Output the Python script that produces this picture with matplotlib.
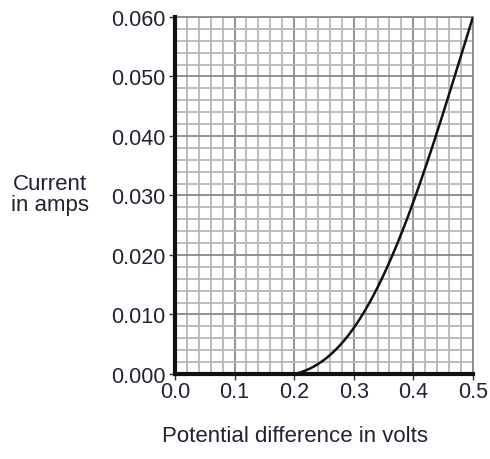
import numpy as np
import matplotlib
matplotlib.use("Agg")
import matplotlib.pyplot as plt
from matplotlib.ticker import MultipleLocator

plt.rcParams['font.family'] = ['Liberation Sans', 'DejaVu Sans']

# current vs potential difference
volts = [0.0, 0.1, 0.2, 0.225, 0.25, 0.275, 0.3, 0.325, 0.35, 0.375, 0.4, 0.425, 0.45, 0.475, 0.5]
amps = [0.0, 0.0, 0.0, 0.0006, 0.0025, 0.0048, 0.0076, 0.0115, 0.0165, 0.0225, 0.029, 0.036, 0.0438, 0.0517, 0.060]

x_ticks = [0.0, 0.1, 0.2, 0.3, 0.4, 0.5]
y_ticks = [0.0, 0.01, 0.02, 0.03, 0.04, 0.05, 0.06]
y_labels = ["0.000", "0.010", "0.020", "0.030", "0.040", "0.050", "0.060"]

fig = plt.figure(figsize=(4.9, 4.6), dpi=100)
ax = fig.add_axes([0.357, 0.185, 0.608, 0.776])

# smooth fit through the read points (flat at zero below 0.2 V)
xs = np.linspace(0, 0.5, 400)
mask = np.array(volts) >= 0.2
c = np.polyfit(np.array(volts)[mask], np.array(amps)[mask], 4)
ys = np.where(xs >= 0.2, np.clip(np.polyval(c, xs), 0, None), 0)
ax.plot(xs, ys, color="#111111", linewidth=1.8, zorder=3)

ax.set_xlim(0, 0.5)
ax.set_ylim(0, 0.06)
ax.set_xticks(x_ticks)
ax.set_xticklabels([f"{v:.1f}" for v in x_ticks])
ax.set_yticks(y_ticks)
ax.set_yticklabels(y_labels)
ax.xaxis.set_minor_locator(MultipleLocator(0.02))
ax.yaxis.set_minor_locator(MultipleLocator(0.002))

ax.grid(which="minor", color="#b8b8b8", linewidth=1.3)
ax.grid(which="major", color="#8a8a8a", linewidth=1.3)
ax.set_axisbelow(True)

ax.tick_params(which="major", labelsize=15.5, length=4, width=1, color="#333333", labelcolor="#222233")
ax.tick_params(axis="x", which="major", pad=1)
ax.tick_params(axis="y", which="major", pad=3)
ax.tick_params(which="minor", length=0)

for s in ["left", "bottom"]:
    ax.spines[s].set_linewidth(3)
    ax.spines[s].set_color("#111111")
    ax.spines[s].set_zorder(4)
for s in ["top", "right"]:
    ax.spines[s].set_color("#8a8a8a")
    ax.spines[s].set_linewidth(1.3)

fig.text(50 / 490, 1 - 195 / 460, "Current\nin amps", fontsize=16, color="#222233",
         ha="center", va="center", linespacing=1.0)
fig.text(295 / 490, 1 - 437 / 460, "Potential difference in volts", fontsize=16,
         color="#222233", ha="center", va="center")

fig.savefig("out.png", dpi=100)
